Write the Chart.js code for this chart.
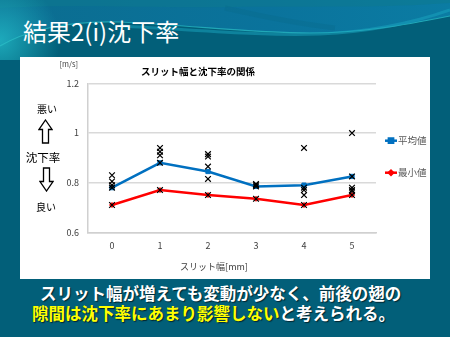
<!DOCTYPE html>
<html>
<head>
<meta charset="utf-8">
<script src="https://cdn.jsdelivr.net/npm/chart.js@4"></script>
<style>
html, body { margin: 0; padding: 0; }
body {
    width: 450px; height: 337px; overflow: hidden; position: relative;
    background: #025f79;
    font-family: "Noto Sans CJK JP", sans-serif;
}
#bg { position: absolute; left: 0; top: 0; }
#slideTitle {
    position: absolute; left: 23px; top: 19px;
    color: #fff; font-size: 24px; line-height: 24px; white-space: nowrap;
}
#panel {
    position: absolute; left: 20px; top: 57px; width: 410px; height: 222px;
    background: #fff;
}
#chart { position: absolute; left: 0; top: 0; }
.note {
    position: absolute; color: #000; white-space: nowrap;
    transform: translate(-50%, -50%);
}
.arrow { position: absolute; }
#summary {
    position: absolute; left: 0; top: 283px; width: 450px;
    color: #fff; font-size: 16.5px; line-height: 20px; font-weight: bold;
    text-shadow: 1px 1px 1px rgba(0,0,0,0.6); white-space: nowrap;
}
#summary .l1 { padding-left: 40px; }
#summary .l2 { padding-left: 32px; }
#summary .hl { color: #ffff00; }
</style>
</head>
<body>
<svg id="bg" width="450" height="337">
    <defs>
        <linearGradient id="topGrad" x1="0" y1="0" x2="1" y2="0">
            <stop offset="0" stop-color="#0b6d90"/>
            <stop offset="0.6" stop-color="#0a739c"/>
            <stop offset="1" stop-color="#0b7ca3"/>
        </linearGradient>
        <radialGradient id="glow" cx="0" cy="40" r="60" gradientUnits="userSpaceOnUse">
            <stop offset="0" stop-color="#1fb0c0" stop-opacity="0.9"/>
            <stop offset="1" stop-color="#1fb0c0" stop-opacity="0"/>
        </radialGradient>
    </defs>
    <rect width="450" height="337" fill="#025f79"/>
    <path d="M0,0 H450 V16 C400,26 360,33 310,33 C250,33 200,26 120,22 C60,20 20,34 0,46 Z" fill="url(#topGrad)"/>
    <path d="M0,0 H450 V3 C380,8 330,6 230,7 C150,8 60,4 0,8 Z" fill="#0d7a8e" opacity="0.5"/>
    <path d="M225,8 C260,16 300,24 335,28" stroke="#086a8a" stroke-width="5" fill="none" opacity="0.35"/>
    <rect x="0" y="0" width="90" height="60" fill="url(#glow)"/>
    <path d="M0,46 C20,34 60,20 120,22 C200,26 250,33 310,33 C360,33 400,26 450,16" stroke="#2cc0c8" stroke-width="1.2" fill="none" opacity="0.7"/>
    <path d="M120,26 C200,30 260,36 320,34 C370,32 410,24 450,10" stroke="#1aa6c0" stroke-width="3" fill="none" opacity="0.5"/>
</svg>

<div id="slideTitle">結果2(i)沈下率</div>

<div id="panel">
    <canvas id="chart" width="410" height="222"></canvas>
</div>

<div class="note" style="left:47px; top:108px; font-size:10px;">悪い</div>
<svg class="arrow" style="left:38px; top:119px;" width="15" height="25">
    <polygon points="7.5,1 14,10.5 10.5,10.5 10.5,24 4.5,24 4.5,10.5 1,10.5" fill="#fff" stroke="#000" stroke-width="1.3"/>
</svg>
<div class="note" style="left:43px; top:157px; font-size:11.5px;">沈下率</div>
<svg class="arrow" style="left:39px; top:167px;" width="15" height="25">
    <polygon points="4.5,1 10.5,1 10.5,14.5 14,14.5 7.5,24 1,14.5 4.5,14.5" fill="#fff" stroke="#000" stroke-width="1.3"/>
</svg>
<div class="note" style="left:46px; top:206px; font-size:10px;">良い</div>

<div id="summary">
    <div class="l1">スリット幅が増えても変動が少なく、前後の翅の</div>
    <div class="l2"><span class="hl">隙間は沈下率にあまり影響しない</span>と考えられる。</div>
</div>

<script>
// スリット幅 [mm]
const slitWidths = ['0', '1', '2', '3', '4', '5'];

// 沈下率 [m/s]
const avgValues = [0.78, 0.88, 0.845, 0.785, 0.79, 0.825];
const minValues = [0.71, 0.77, 0.75, 0.735, 0.71, 0.75];

// 各スリット幅での測定値
const samples0 = [0.83, 0.805, 0.79, 0.78, 0.71];
const samples1 = [0.94, 0.925, 0.91, 0.88, 0.77];
const samples2 = [0.915, 0.905, 0.865, 0.815, 0.75];
const samples3 = [0.795, 0.79, 0.785, 0.735];
const samples4 = [0.94, 0.78, 0.77, 0.75, 0.71];
const samples5 = [1.0, 0.825, 0.78, 0.77, 0.765, 0.75];

const yTicks = [0.6, 0.8, 1.0, 1.2];

const allSamples = [samples0, samples1, samples2, samples3, samples4, samples5];
const samplePoints = [];
allSamples.forEach((list, i) => {
    for (const v of list) {
        samplePoints.push({ x: slitWidths[i], y: v });
    }
});

const FONT = '"Noto Sans CJK JP", sans-serif';

// 凡例・単位・軸ラベルを描く
const extras = {
    id: 'extras',
    afterDraw(chart) {
        const ctx = chart.ctx;
        const area = chart.chartArea;
        ctx.save();

        ctx.fillStyle = '#404040';
        ctx.font = '7.5px ' + FONT;
        ctx.textAlign = 'right';
        ctx.textBaseline = 'middle';
        ctx.fillText('[m/s]', area.left - 10, 7);

        ctx.font = '9px ' + FONT;
        ctx.textAlign = 'center';
        ctx.fillText('スリット幅[mm]', area.left + 126, 210);

        const items = [chart.data.datasets[1], chart.data.datasets[2]];
        const rows = [83.7, 115.7];
        const sizes = [3, 2];
        items.forEach((ds, i) => {
            const y = rows[i];
            const x0 = area.right + 9;
            ctx.strokeStyle = ds.borderColor;
            ctx.lineWidth = 2.5;
            ctx.beginPath();
            ctx.moveTo(x0, y);
            ctx.lineTo(x0 + 12, y);
            ctx.stroke();
            Chart.helpers.drawPoint(ctx, {
                pointStyle: ds.pointStyle, radius: sizes[i], borderWidth: 1,
                rotation: 0
            }, x0 + 6, y);
            ctx.fillStyle = ds.borderColor;
            ctx.fill();
            ctx.fillStyle = '#595959';
            ctx.font = '9.5px ' + FONT;
            ctx.textAlign = 'left';
            ctx.fillText(ds.label, x0 + 13, y);
        });
        ctx.restore();
    }
};

const ctx = document.getElementById('chart').getContext('2d');

new Chart(ctx, {
    type: 'line',
    data: {
        labels: slitWidths,
        datasets: [{
            label: '測定値',
            data: samplePoints,
            showLine: false,
            pointStyle: 'crossRot',
            pointRadius: 4,
            borderColor: '#000',
            backgroundColor: '#000',
            borderWidth: 1.2,
            order: 0
        }, {
            label: '平均値',
            data: avgValues,
            borderColor: '#0070c0',
            backgroundColor: '#0070c0',
            borderWidth: 2.5,
            pointStyle: 'rect',
            pointRadius: 3,
            pointBorderWidth: 1,
            order: 1
        }, {
            label: '最小値',
            data: minValues,
            borderColor: '#ff0000',
            backgroundColor: '#ff0000',
            borderWidth: 2.5,
            pointStyle: 'rectRot',
            pointRadius: 2.5,
            pointBorderWidth: 1,
            order: 2
        }]
    },
    options: {
        responsive: false,
        animation: false,
        layout: { padding: { left: 0, right: 54, top: 0, bottom: 0 } },
        plugins: {
            legend: { display: false },
            tooltip: { enabled: false },
            title: {
                display: true,
                text: 'スリット幅と沈下率の関係',
                color: '#000',
                font: { family: FONT, size: 9.5, weight: 'bold' },
                padding: { top: 9, bottom: 6 }
            }
        },
        scales: {
            x: {
                offset: true,
                grid: { display: false, drawTicks: false },
                border: { display: true, color: '#d0d0d0', width: 1.5 },
                ticks: { padding: 8, color: '#404040', font: { family: FONT, size: 9 } },
                afterFit(scale) { scale.height = 46.7; }
            },
            y: {
                min: yTicks[0],
                max: yTicks[yTicks.length - 1],
                grid: { color: '#d9d9d9', lineWidth: 1.5, drawTicks: false },
                border: { display: true, color: '#d0d0d0', width: 1.5 },
                ticks: {
                    stepSize: 0.2, padding: 9, color: '#404040',
                    font: { family: FONT, size: 9 },
                    callback: (value) => String(Number(value.toFixed(2)))
                },
                afterFit(scale) { scale.width = 68; }
            }
        }
    },
    plugins: [extras]
});
</script>
</body>
</html>
